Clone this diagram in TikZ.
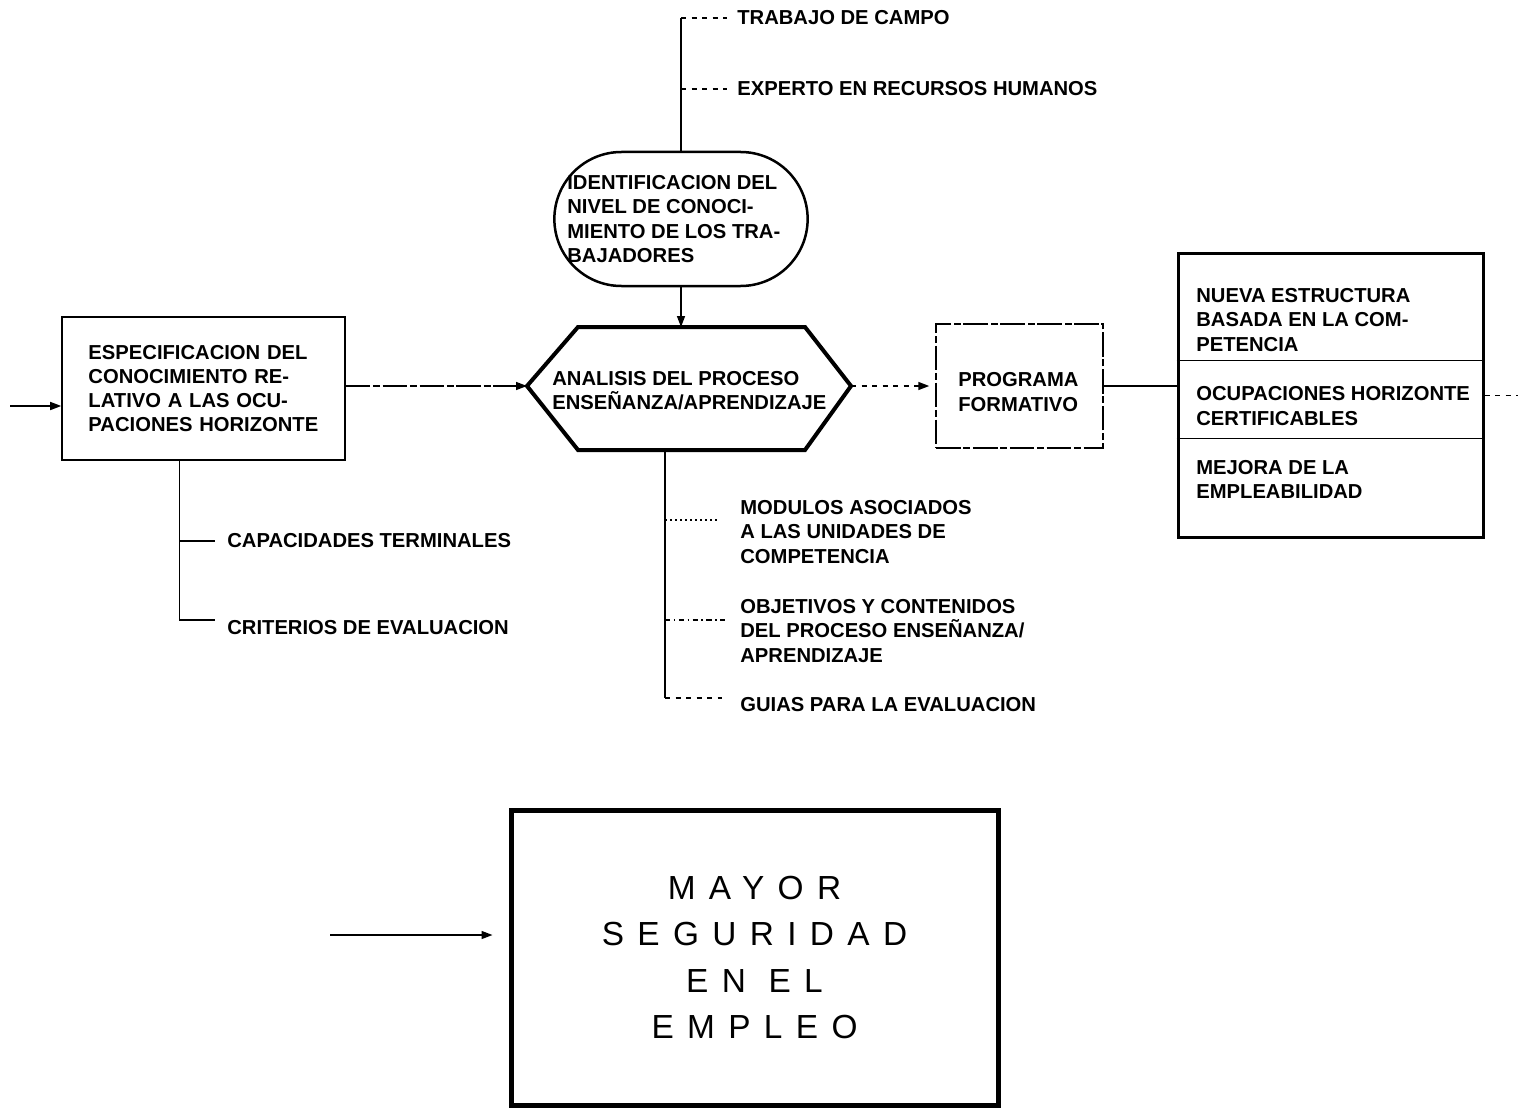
\documentclass[tikz,border=0pt]{standalone}
\usepackage{fontspec}
\setmainfont{Liberation Sans}
\newfontfamily\spacedfont[LetterSpace=40]{Liberation Sans}
\usetikzlibrary{arrows.meta,positioning,shapes.misc}

\begin{document}
\begin{tikzpicture}[x=0.2mm, y=-0.2mm,
		txt/.style={font=\fontsize{11.5}{13.8}\selectfont\bfseries, align=left, inner sep=0pt},
		plainbox/.style={draw, line width=0.3mm, inner sep=0pt},
		arr/.style={-{Triangle[length=2.2mm,width=1.6mm]}, line width=0.3mm},
		lead/.style={line width=0.3mm},
		scanline/.style={dash pattern=on 14pt off 1.5pt on 4pt off 1.5pt}]
			%%%%% START %%%%%
			\useasboundingbox (0,0) rectangle (1519,1113);
			
			\node[plainbox, txt, minimum width=56.6mm, minimum height=28.6mm, text width=46mm, inner xsep=5.2mm] (espec) at (203.5,388.5) {ESPECIFICACION DEL\\CONOCIMIENTO RE-\\LATIVO A LAS OCU-\\PACIONES HORIZONTE};
			\coordinate (entrada) at (10,406);
			\draw[arr] (entrada) -- (entrada -| espec.west);
			
			\node[txt, anchor=west] (cap) at (227,541) {CAPACIDADES TERMINALES};
			\node[txt, anchor=west] (crit) at (227,628) {CRITERIOS DE EVALUACION};
			\path (espec.south west) ++(118,0) coordinate (espbr);
			\path ([yshift=1.6mm]crit.west) coordinate (critL);
			\draw[lead, shorten >=2.4mm] (espbr) |- (critL);
			\draw[lead, shorten >=2.4mm] (espbr |- cap.west) -- (cap.west);
			
			\node[draw, rounded rectangle, line width=0.5mm, minimum width=53mm, minimum height=26.8mm] (ident) at (681,219) {};
			\node[txt, anchor=west] (identxt) at (567,219) {IDENTIFICACION DEL\\NIVEL DE CONOCI-\\MIENTO DE LOS TRA-\\BAJADORES};
			
			\node[txt, anchor=west] (trab) at (737,18) {TRABAJO DE CAMPO};
			\node[txt, anchor=west] (exp) at (737,89) {EXPERTO EN RECURSOS HUMANOS};
			\draw[lead] (ident.north) -- (ident.north |- trab.west);
			\draw[lead, dashed, shorten >=2mm] (ident.north |- trab.west) -- (trab.west);
			\draw[lead, dashed, shorten >=2mm] (ident.north |- exp.west) -- (exp.west);
			
			\coordinate (hxw) at (527,386);
			\coordinate (hxe) at (851,386);
			\coordinate (hxn) at (681,327);
			\coordinate (hxs) at (665,450);
			\draw[line width=0.8mm, line join=miter] (hxw) -- (578,327) -- (805,327) -- (hxe) -- (805,450) -- (578,450) -- cycle;
			\node[txt, anchor=west] (analtxt) at (552,391) {ANALISIS DEL PROCESO\\ENSEÑANZA/APRENDIZAJE};
			\draw[arr] (ident.south) -- (hxn);
			\draw[arr, scanline] (hxw -| espec.east) -- (hxw);
			
			\node[plainbox, scanline, minimum width=33.4mm, minimum height=24.8mm] (prog) at (1019.5,386) {};
			\node[txt, anchor=west] (progtxt) at (958,392) {PROGRAMA\\FORMATIVO};
			\draw[arr, dashed, shorten >=1.2mm] (hxe) -- (prog.west);
			
			\node[draw, line width=0.6mm, minimum width=61mm, minimum height=56.6mm] (rbox) at (1330.5,395.5) {};
			\draw[lead] ([yshift=-21.6mm]rbox.north west) -- ([yshift=-21.6mm]rbox.north east);
			\draw[lead] ([yshift=-37.2mm]rbox.north west) -- ([yshift=-37.2mm]rbox.north east);
			\node[txt, anchor=west] (nueva) at (1196,320) {NUEVA ESTRUCTURA\\BASADA EN LA COM-\\PETENCIA};
			\node[txt, anchor=west] (ocup) at (1196,406) {OCUPACIONES HORIZONTE\\CERTIFICABLES};
			\node[txt, anchor=west] (mejora) at (1196,479.5) {MEJORA DE LA\\EMPLEABILIDAD};
			\draw[lead] (prog.east) -- (prog.east -| rbox.west);
			\draw[lead, dashed] (rbox.east) -- ++(33,0);
			
			\node[txt, anchor=west] (mod) at (740,532) {MODULOS ASOCIADOS\\A LAS UNIDADES DE\\COMPETENCIA};
			\node[txt, anchor=west] (obj) at (740,631) {OBJETIVOS Y CONTENIDOS\\DEL PROCESO ENSEÑANZA/\\APRENDIZAJE};
			\node[txt, anchor=west] (guia) at (740,705) {GUIAS PARA LA EVALUACION};
			\path ([yshift=2.4mm]mod.west) coordinate (modL);
			\path ([yshift=2.2mm]obj.west) coordinate (objL);
			\path ([yshift=1.4mm]guia.west) coordinate (guiaL);
			\draw[lead] (hxs) -- (hxs |- guiaL);
			\draw[lead, dotted, shorten >=4.4mm] (hxs |- modL) -- (modL);
			\draw[lead, dash dot, shorten >=3mm] (hxs |- objL) -- (objL);
			\draw[lead, dashed, shorten >=3.6mm] (hxs |- guiaL) -- (guiaL);
			
			\node[draw, line width=1mm, minimum width=97.4mm, minimum height=59mm, align=center, font=\spacedfont\fontsize{19}{26.2}\selectfont] (mayor) at (754.5,957.5) {MAYOR\\SEGURIDAD\\EN EL\\EMPLEO};
			\coordinate (myin) at (330,935);
			\draw[arr, shorten >=3.2mm] (myin) -- (myin -| mayor.west);
			
			%%%%% END %%%%%
\end{tikzpicture}
\end{document}
